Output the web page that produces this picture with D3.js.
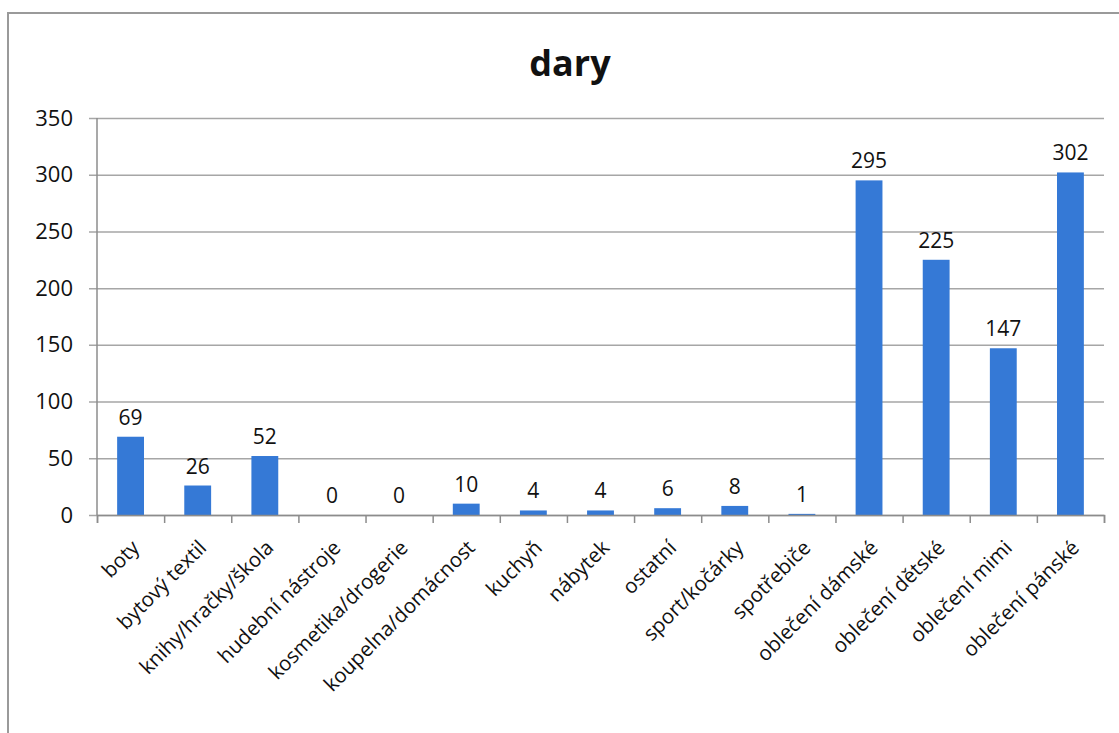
<!DOCTYPE html>
<html>
<head>
<meta charset="utf-8">
<script src="https://d3js.org/d3.v7.min.js"></script>
<style>
  body { margin: 0; background: #fff; }
  text { font-family: "Open Sans", "Noto Sans", sans-serif; fill: #111; }
</style>
</head>
<body>
<div id="chart"></div>
<script>
// data
var categories = ["boty", "bytový textil", "knihy/hračky/škola", "hudební nástroje",
    "kosmetika/drogerie", "koupelna/domácnost", "kuchyň", "nábytek", "ostatní",
    "sport/kočárky", "spotřebiče", "oblečení dámské", "oblečení dětské",
    "oblečení mimi", "oblečení pánské"];
var values = [69, 26, 52, 0, 0, 10, 4, 4, 6, 8, 1, 295, 225, 147, 302];
var yTicks = [0, 50, 100, 150, 200, 250, 300, 350];
var title = "dary";

var svgWidth = 1119;
var svgHeight = 733;

var margin = { top: 118, right: 15, bottom: 218, left: 97 };
var width = 1104 - margin.left;
var height = 515 - margin.top;

var svg = d3.select("#chart").append("svg")
    .attr("width", svgWidth)
    .attr("height", svgHeight);

// outer chart border
svg.append("path")
    .attr("d", "M8," + svgHeight + "V13H" + svgWidth)
    .attr("fill", "none")
    .attr("stroke", "#9a9a9a")
    .attr("stroke-width", 2);

svg.append("text")
    .attr("x", 570)
    .attr("y", 76)
    .attr("text-anchor", "middle")
    .attr("font-size", "36px")
    .attr("font-weight", "bold")
    .text(title);

var chartGroup = svg.append("g")
    .attr("transform", `translate(${margin.left}, ${margin.top})`);

var xBand = d3.scaleBand()
    .domain(categories)
    .range([0, width])
    .paddingInner(0.6)
    .paddingOuter(0.3);

var xEdge = d3.scaleLinear()
    .domain([0, categories.length])
    .range([0, width]);

var yLinearScale = d3.scaleLinear()
    .domain([0, 350])
    .range([height, 0]);

// gridlines + y labels
var leftAxis = d3.axisLeft(yLinearScale)
    .tickValues(yTicks)
    .tickSize(-width - 8)
    .tickPadding(16)
    .tickFormat(d3.format("d"));

var yAxis = chartGroup.append("g")
    .attr("transform", "translate(-8,0)")
    .call(leftAxis);
yAxis.select(".domain").remove();
yAxis.selectAll(".tick line").attr("stroke", "#a6a6a6").attr("stroke-width", 1.5);
yAxis.selectAll(".tick text")
    .attr("font-size", "22px")
    .attr("x", -16)
    .attr("fill", "#111");

// vertical axis line
chartGroup.append("line")
    .attr("x1", 0).attr("x2", 0)
    .attr("y1", 0).attr("y2", height)
    .attr("stroke", "#8c8c8c")
    .attr("stroke-width", 1.5);

// bars
chartGroup.selectAll(".bar")
    .data(values)
    .enter()
    .append("rect")
    .attr("class", "bar")
    .attr("x", (d, i) => xBand(categories[i]))
    .attr("y", d => yLinearScale(d))
    .attr("width", xBand.bandwidth())
    .attr("height", d => height - yLinearScale(d))
    .attr("fill", "#3579d6");

// x axis with boundary ticks
var bottomAxis = d3.axisBottom(xEdge)
    .tickValues(d3.range(categories.length + 1))
    .tickSize(8)
    .tickFormat("");

var xAxis = chartGroup.append("g")
    .attr("transform", `translate(0, ${height})`)
    .call(bottomAxis);
xAxis.select(".domain").attr("stroke", "#8c8c8c").attr("stroke-width", 1.5);
xAxis.selectAll(".tick line").attr("stroke", "#8c8c8c").attr("stroke-width", 1.5);

// value labels
chartGroup.selectAll(".valueText")
    .data(values)
    .enter()
    .append("text")
    .attr("class", "valueText")
    .attr("x", (d, i) => xBand(categories[i]) + xBand.bandwidth() / 2)
    .attr("y", d => yLinearScale(d) - 12)
    .attr("text-anchor", "middle")
    .attr("font-size", "21px")
    .text(d => d);

// rotated category labels
chartGroup.selectAll(".catText")
    .data(categories)
    .enter()
    .append("text")
    .attr("class", "catText")
    .attr("transform", d => `translate(${xBand(d) + xBand.bandwidth() / 2 + 10}, ${height + 34}) rotate(-45)`)
    .attr("text-anchor", "end")
    .attr("font-size", "20.5px")
    .text(d => d);
</script>
</body>
</html>
